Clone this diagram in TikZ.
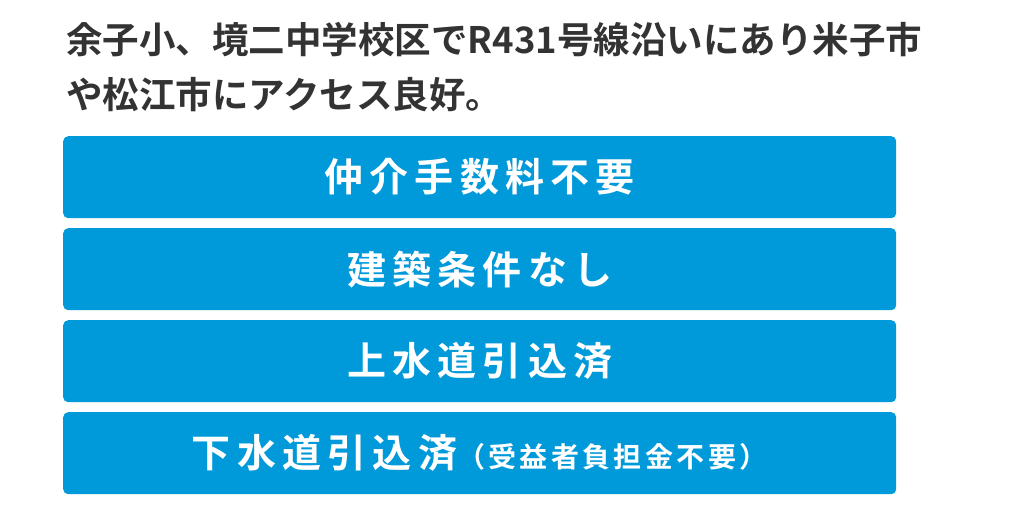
\documentclass[tikz,border=0pt]{standalone}
\usepackage{fontspec}
\setmainfont{Noto Sans CJK JP}[BoldFont={* Bold}]
\definecolor{bluebox}{HTML}{0099D9}
\definecolor{txt}{HTML}{333333}
\begin{document}
\begin{tikzpicture}[x=1pt,y=-1pt,
  box/.style={fill=bluebox,rounded corners=5pt,minimum width=833pt,minimum height=82pt,anchor=north west,inner sep=0pt,text=white,font=\fontsize{39}{39}\selectfont\bfseries\addfontfeature{LetterSpace=16}},
  title/.style={anchor=west,inner sep=0pt,text=txt,font=\fontsize{36.5}{36.5}\selectfont\bfseries}]
\useasboundingbox (0,0) rectangle (1014,518);
\node[title] (t1) at (66,40) {余子小、境二中学校区でR431号線沿いにあり米子市};
\node[title] (t2) at (66,95) {や松江市にアクセス良好。};
\node[box] (b1) at (63,136) {仲介手数料不要};
\node[box] (b2) at (63,228) {建築条件なし};
\node[box] (b3) at (63,320) {上水道引込済};
\node[box] (b4) at (63,412) {下水道引込済\fontsize{28}{28}\selectfont\addfontfeature{LetterSpace=12}（受益者負担金不要）};
\end{tikzpicture}
\end{document}
